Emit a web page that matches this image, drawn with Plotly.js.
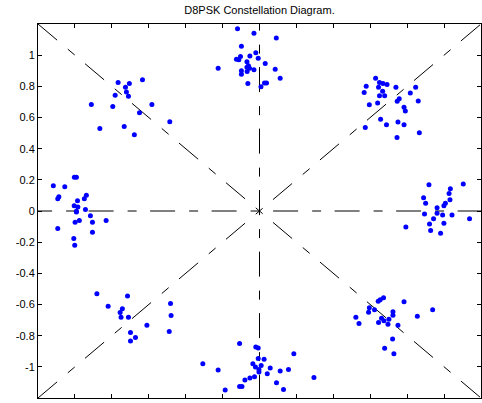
<!DOCTYPE html>
<html>
<head>
<meta charset="utf-8">
<script src="https://cdn.plot.ly/plotly-3.0.1.min.js"></script>
<style>html,body{margin:0;padding:0;background:#fff;}#chart{width:482px;height:403px;}</style>
</head>
<body>
<div id="chart"></div>
<script>
// In-phase (I) and quadrature (Q) components of received symbols, per cluster
const topI = [-0.119,-0.030,0.091,-0.098,-0.020,-0.103,-0.052,-0.125,-0.112,-0.007,-0.068,0.031,-0.224,-0.060,-0.068,-0.054,-0.098,-0.030,-0.067,0.085,-0.098,0.112,-0.063,0.027,0.038,0.008];
const topQ = [1.170,1.140,1.110,1.058,1.015,0.992,0.994,0.974,0.970,0.981,0.957,0.947,0.916,0.932,0.923,0.916,0.900,0.906,0.895,0.910,0.878,0.852,0.818,0.822,0.822,0.798];

const tlI = [-0.766,-0.705,-0.634,-0.726,-0.721,-0.782,-0.710,-0.911,-0.795,-0.583,-0.650,-0.486,-0.865,-0.733,-0.678];
const tlQ = [0.824,0.818,0.842,0.794,0.764,0.742,0.736,0.684,0.671,0.684,0.631,0.573,0.530,0.543,0.489];

const trI = [0.629,0.650,0.669,0.691,0.578,0.645,0.739,0.846,0.667,0.567,0.817,0.650,0.678,0.757,0.746,0.860,0.640,0.595,0.783,0.790,0.656,0.688,0.750,0.783,0.573,0.866,0.745];
const trQ = [0.852,0.824,0.818,0.811,0.800,0.794,0.794,0.794,0.768,0.760,0.758,0.740,0.740,0.721,0.704,0.706,0.693,0.682,0.665,0.642,0.588,0.553,0.571,0.553,0.536,0.502,0.472];

const leftI = [-1.003,-0.992,-1.117,-1.055,-1.087,-1.093,-0.938,-0.949,-0.986,-1.004,-0.984,-0.943,-0.992,-0.992,-0.916,-0.976,-0.999,-0.905,-0.831,-1.093,-0.905,-1.006,-1.001];
const leftQ = [0.216,0.216,0.162,0.156,0.091,0.079,0.101,0.079,0.066,0.034,0.025,0.010,-0.001,-0.007,-0.031,-0.061,-0.072,-0.072,-0.061,-0.112,-0.136,-0.177,-0.220];

const rightI = [0.918,1.104,1.034,1.027,0.889,1.032,0.900,1.007,0.999,0.962,0.962,0.894,0.992,1.043,0.943,1.138,0.921,0.999,0.793,0.927,0.981];
const rightQ = [0.169,0.173,0.143,0.113,0.085,0.072,0.049,0.049,0.034,0.021,-0.014,-0.020,-0.026,-0.026,-0.050,-0.050,-0.084,-0.078,-0.102,-0.125,-0.142];

const blI = [-0.881,-0.715,-0.820,-0.743,-0.755,-0.482,-0.750,-0.710,-0.479,-0.610,-0.699,-0.489,-0.672,-0.699];
const blQ = [-0.531,-0.546,-0.611,-0.628,-0.651,-0.593,-0.682,-0.682,-0.671,-0.733,-0.780,-0.774,-0.811,-0.834];

const brI = [0.672,0.654,0.643,0.783,0.938,0.595,0.623,0.591,0.723,0.723,0.855,0.522,0.661,0.701,0.674,0.645,0.539,0.696,0.750,0.721,0.678,0.728];
const brQ = [-0.557,-0.570,-0.579,-0.582,-0.634,-0.621,-0.634,-0.649,-0.647,-0.669,-0.675,-0.682,-0.688,-0.695,-0.705,-0.716,-0.722,-0.727,-0.733,-0.821,-0.881,-0.916];

const botI = [-0.108,-0.020,-0.007,0.186,-0.007,0.025,-0.307,-0.036,0.009,-0.022,0.058,-0.003,-0.224,0.112,0.157,-0.003,0.042,-0.027,-0.052,0.295,-0.079,0.092,-0.095,-0.108,0.130,-0.186];
const botQ = [-0.851,-0.872,-0.879,-0.916,-0.946,-0.952,-0.980,-0.980,-0.991,-1.001,-1.008,-1.017,-1.021,-1.027,-1.017,-1.033,-1.044,-1.064,-1.072,-1.068,-1.085,-1.102,-1.126,-1.126,-1.146,-1.149];

const yTickVals = [-1,-0.8,-0.6,-0.4,-0.2,0,0.2,0.4,0.6,0.8,1];
const yTickText = ["-1","-0.8","-0.6","-0.4","-0.2","0","0.2","0.4","0.6","0.8","1"];
const xTickVals = [-1.2,-1,-0.8,-0.6,-0.4,-0.2,0,0.2,0.4,0.6,0.8,1,1.2];

const allI = [].concat(topI, tlI, trI, leftI, rightI, blI, brI, botI);
const allQ = [].concat(topQ, tlQ, trQ, leftQ, rightQ, blQ, brQ, botQ);

const dashPat = "25px,14px,9px,13.5px";
const guide = (x, y) => ({
  x: x, y: y, type: 'scatter', mode: 'lines', hoverinfo: 'skip', showlegend: false,
  line: {color: '#000000', width: 1, dash: dashPat}
});

const traces = [
  guide([-1.2, 1.2], [1.2, -1.2]),
  guide([-1.2, 1.2], [-1.2, 1.2]),
  guide([-1.259, 1.2], [0, 0]),
  guide([0, 0], [1.318, -1.2]),
  {
    x: allI, y: allQ, type: 'scatter', mode: 'markers', showlegend: false,
    marker: {color: '#0000ff', size: 5, line: {width: 0}}
  }
];

const axisCommon = {
  showgrid: false, zeroline: false, showline: true, linecolor: '#000000', linewidth: 1,
  mirror: 'allticks', ticks: 'inside', ticklen: 4, tickwidth: 1, tickcolor: '#000000',
  fixedrange: true
};

const layout = {
  width: 482, height: 403,
  margin: {l: 38, r: 1, t: 24, b: 5, pad: 0},
  paper_bgcolor: '#ffffff', plot_bgcolor: '#ffffff',
  font: {family: 'Liberation Sans, Arial, sans-serif', size: 11, color: '#000000'},
  title: {text: 'D8PSK Constellation Diagram.', font: {size: 11, color: '#000000'},
          x: 0.5, xref: 'paper', y: 1 - 10/403, yref: 'container', yanchor: 'middle', xanchor: 'center'},
  xaxis: Object.assign({}, axisCommon, {range: [-1.2, 1.2], tickvals: xTickVals, showticklabels: false}),
  yaxis: Object.assign({}, axisCommon, {range: [-1.2, 1.2], tickvals: yTickVals, ticktext: yTickText, showticklabels: true})
};

Plotly.newPlot('chart', traces, layout, {displayModeBar: false, staticPlot: true});
</script>
</body>
</html>
